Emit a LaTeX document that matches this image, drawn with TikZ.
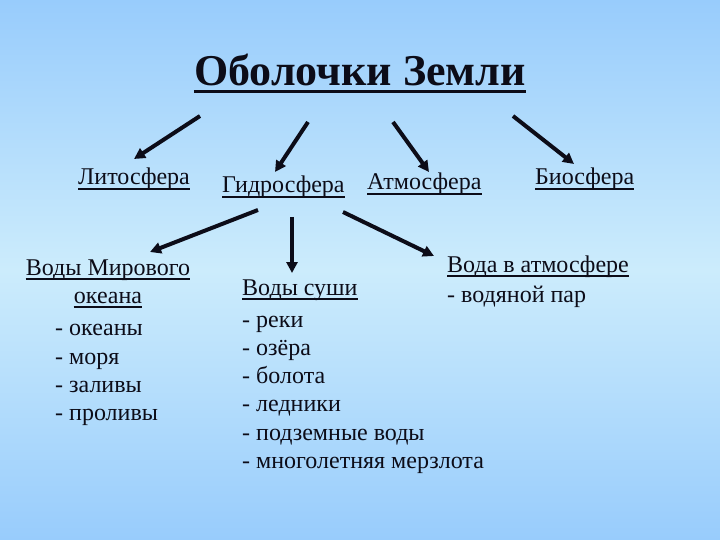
\documentclass[tikz,border=0pt]{standalone}
\usepackage{fontspec}
\setmainfont{Liberation Serif}
\usetikzlibrary{arrows.meta}
\definecolor{bgedge}{RGB}{152,204,252}
\definecolor{bgmid}{RGB}{204,236,252}
\definecolor{ink}{RGB}{12,12,24}
\tikzset{
  lbl/.style={inner sep=0pt, anchor=base west, font=\fontsize{24}{28}\selectfont, text=ink},
  ttl/.style={inner sep=0pt, anchor=base, font=\fontsize{44}{50}\selectfont\bfseries, text=ink},
  arr/.style={line width=4pt, draw=ink, -{Triangle[length=11pt,width=11pt]}},
  uline/.style={draw=ink, line width=1.6pt}
}
\newcommand{\ul}[1]{\draw[uline] ([yshift=-4pt]#1.base west) -- ([yshift=-4pt]#1.base east);}
\begin{document}
\begin{tikzpicture}[x=1pt,y=-1pt]
\useasboundingbox (0,0) rectangle (720,540);
\shade[top color=bgedge, bottom color=bgedge, middle color=bgmid] (0,0) rectangle (720,540);
% title
\node[ttl] (title) at (360,86) {Оболочки Земли};
\draw[uline, line width=3pt] ([yshift=-6pt]title.base west) -- ([yshift=-6pt]title.base east);
% level 1
\node[lbl] (lito) at (78,185) {Литосфера};
\node[lbl] (gidro) at (222,193) {Гидросфера};
\node[lbl] (atmo) at (367,190) {Атмосфера};
\node[lbl] (bio) at (535,185) {Биосфера};
\ul{lito}\ul{gidro}\ul{atmo}\ul{bio}
% level 2
\node[lbl, anchor=base] (vm1) at (108,275) {Воды Мирового};
\node[lbl, anchor=base] (vm2) at (108,303) {океана};
\ul{vm1}\ul{vm2}
\node[lbl] (o1) at (55,335) {- океаны};
\node[lbl] (o2) at (55,364) {- моря};
\node[lbl] (o3) at (55,392) {- заливы};
\node[lbl] (o4) at (55,420) {- проливы};
\node[lbl] (vs) at (242,295) {Воды суши};
\ul{vs}
\node[lbl] (s1) at (242,327) {- реки};
\node[lbl] (s2) at (242,355) {- озёра};
\node[lbl] (s3) at (242,383) {- болота};
\node[lbl] (s4) at (242,411) {- ледники};
\node[lbl] (s5) at (242,440) {- подземные воды};
\node[lbl] (s6) at (242,468) {- многолетняя мерзлота};
\node[lbl] (va) at (447,272) {Вода в атмосфере};
\ul{va}
\node[lbl] (va1) at (447,302) {- водяной пар};
% arrow end points
\coordinate (t1) at (200,116); \coordinate (h1) at (134,159);
\coordinate (t2) at (308,122); \coordinate (h2) at (275,172);
\coordinate (t3) at (393,122); \coordinate (h3) at (429,172);
\coordinate (t4) at (513,116); \coordinate (h4) at (574,164);
\coordinate (t5) at (258,210); \coordinate (h5) at (150,252);
\coordinate (t6) at (292,217); \coordinate (h6) at (292,273);
\coordinate (t7) at (343,212); \coordinate (h7) at (434,256);
\foreach \i in {1,...,7} {\draw[arr] (t\i) -- (h\i);}
\end{tikzpicture}
\end{document}
